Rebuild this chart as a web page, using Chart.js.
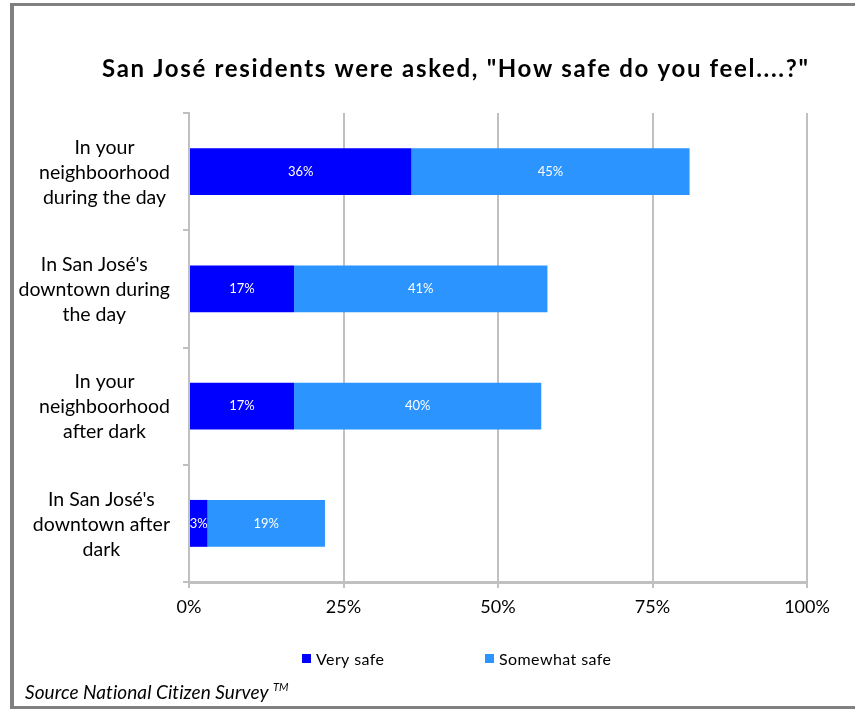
<!DOCTYPE html>
<html>
<head>
<meta charset="utf-8">
<script src="https://cdn.jsdelivr.net/npm/chart.js@4/dist/chart.umd.min.js"></script>
<style>
  html, body { margin: 0; padding: 0; background: #fff; overflow: hidden; }
  #frame {
    position: absolute; left: 10px; top: 3px; width: 900px; height: 700px;
    border: 3px solid #808080; border-left-width: 4px;
  }
  #chart { position: absolute; left: 0; top: 0; }
</style>
</head>
<body>
<div id="frame"></div>
<canvas id="chart" width="855" height="709"></canvas>
<script>
// data
const categories = [
  ["In your", "neighboorhood", "during the day"],
  ["In San José's", "downtown during", "the day"],
  ["In your", "neighboorhood", "after dark"],
  ["In San José's", "downtown after", "dark"],
];
const verySafe = [36, 17, 17, 3];
const somewhatSafe = [45, 41, 40, 19];
const seriesNames = ["Very safe", "Somewhat safe"];
const seriesColors = ["#0000ff", "#2b94ff"];
const xTicks = [0, 25, 50, 75, 100];

const FONT = "Lato, 'Open Sans', sans-serif";
const GRID = "#c0c0c0";

// draw text so it spans a given width (Gill Sans is wider than Lato)
function fitText(ctx, text, x, y, width) {
  ctx.letterSpacing = "0px";
  const w = ctx.measureText(text).width;
  const sp = Math.max(0, (width - w) / Math.max(1, text.length - 1));
  ctx.letterSpacing = sp.toFixed(2) + "px";
  ctx.fillText(text, x, y);
  ctx.letterSpacing = "0px";
}

// category labels: block right-aligned, lines centred inside it
const catLabels = {
  id: "catLabels",
  afterDraw(chart) {
    const { ctx } = chart;
    const y = chart.scales.y;
    ctx.save();
    ctx.font = "19.5px " + FONT;
    ctx.fillStyle = "#000";
    ctx.textAlign = "center";
    ctx.textBaseline = "middle";
    categories.forEach((lines, i) => {
      const cy = y.getPixelForValue(i) + 1;
      const w = Math.max(...lines.map((l) => ctx.measureText(l).width));
      const cx = 170 - w / 2;
      lines.forEach((l, j) =>
        ctx.fillText(l, cx, cy + (j - (lines.length - 1) / 2) * 25)
      );
    });
    ctx.restore();
  },
};

// white value labels in the middle of each segment
const valueLabels = {
  id: "valueLabels",
  afterDatasetsDraw(chart) {
    const { ctx } = chart;
    ctx.save();
    ctx.font = "13px " + FONT;
    ctx.fillStyle = "#fff";
    ctx.textAlign = "center";
    ctx.textBaseline = "middle";
    chart.data.datasets.forEach((ds, di) => {
      chart.getDatasetMeta(di).data.forEach((bar, i) => {
        const p = bar.getProps(["x", "y", "base"], true);
        ctx.fillText(ds.data[i] + "%", (p.x + p.base) / 2, p.y);
      });
    });
    ctx.restore();
  },
};

// title, legend and source note
const decorations = {
  id: "decorations",
  afterDraw(chart) {
    const { ctx } = chart;
    ctx.save();
    ctx.fillStyle = "#000";
    ctx.textBaseline = "middle";
    ctx.textAlign = "left";

    ctx.font = "bold 24px " + FONT;
    fitText(ctx, 'San José residents were asked, "How safe do you feel....?"', 102, 69, 706);

    ctx.font = "16px " + FONT;
    const legendX = [302, 485];
    const legendW = [68, 112];
    chart.data.datasets.forEach((ds, i) => {
      ctx.fillStyle = ds.backgroundColor;
      ctx.fillRect(legendX[i], 654, 9, 9);
      ctx.fillStyle = "#000";
      fitText(ctx, ds.label, legendX[i] + 14, 660, legendW[i]);
    });

    ctx.font = "italic 19px " + FONT;
    fitText(ctx, "Source National Citizen Survey", 25, 693, 243);
    ctx.font = "italic 11px " + FONT;
    ctx.fillText("TM", 273, 687);
    ctx.restore();
  },
};

new Chart(document.getElementById("chart"), {
  type: "bar",
  data: {
    labels: categories.map((c) => c.join(" ")),
    datasets: [
      { label: seriesNames[0], data: verySafe, backgroundColor: seriesColors[0] },
      { label: seriesNames[1], data: somewhatSafe, backgroundColor: seriesColors[1] },
    ],
  },
  options: {
    responsive: false,
    animation: false,
    indexAxis: "y",
    barPercentage: 0.4,
    categoryPercentage: 1,
    layout: { padding: { top: 113, right: 48, bottom: 0, left: 0 } },
    plugins: {
      legend: { display: false },
      title: { display: false },
      tooltip: { enabled: false },
    },
    scales: {
      x: {
        stacked: true,
        min: 0,
        max: 100,
        afterBuildTicks: (s) => { s.ticks = xTicks.map((v) => ({ value: v })); },
        afterFit: (s) => { s.height = 127; },
        ticks: {
          callback: (v) => v + "%",
          color: "#000",
          font: { family: FONT, size: 18 },
          padding: 8,
          maxRotation: 0,
        },
        grid: { color: GRID, lineWidth: 2, tickLength: 6 },
        border: { color: GRID, width: 3 },
      },
      y: {
        stacked: true,
        afterFit: (s) => { s.width = 189; },
        ticks: { display: false },
        grid: { drawOnChartArea: false, color: GRID, lineWidth: 2, tickLength: 6, offset: true },
        border: { color: GRID, width: 2 },
      },
    },
  },
  plugins: [catLabels, valueLabels, decorations],
});
</script>
</body>
</html>
